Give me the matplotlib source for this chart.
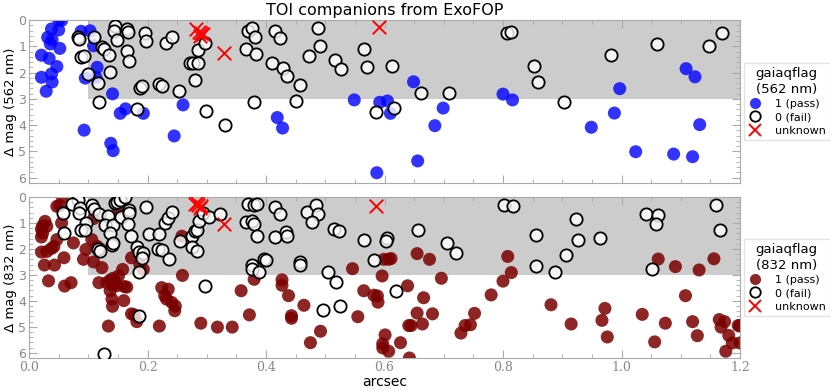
import numpy as np
import matplotlib
matplotlib.use("Agg")
import matplotlib.pyplot as plt
from matplotlib.lines import Line2D
from matplotlib.ticker import MultipleLocator

plt.rcParams.update({"font.family": "DejaVu Sans", "font.size": 10})

# ---- top panel (562 nm) ----
top_pass_x = [0.050, 0.055, 0.038, 0.050, 0.0315, 0.039, 0.036, 0.052, 0.021, 0.034, 0.047, 0.021, 0.038, 0.039, 0.029,
              0.088, 0.103, 0.109, 0.115, 0.095, 0.113, 0.141, 0.154, 0.163, 0.193, 0.093, 0.138, 0.142, 0.260, 0.245,
              0.419, 0.428, 0.549, 0.592, 0.605, 0.610, 0.587, 0.649, 0.699, 0.685, 0.656, 0.800, 0.816, 0.949, 0.988,
              0.997, 1.024, 1.088, 1.120, 1.109, 1.124, 1.132]
top_pass_y = [0.00, 0.02, 0.34, 0.38, 0.66, 0.76, 0.91, 1.08, 1.34, 1.46, 1.77, 2.18, 2.05, 2.36, 2.71,
              0.43, 0.41, 0.98, 1.80, 2.21, 2.18, 2.81, 3.55, 3.38, 3.55, 4.19, 4.69, 4.97, 3.23, 4.41,
              3.71, 4.11, 3.04, 3.13, 3.08, 3.55, 5.81, 2.35, 3.35, 4.02, 5.36, 2.82, 3.04, 4.08, 3.54,
              2.61, 5.01, 5.10, 5.20, 1.85, 2.16, 3.98]

top_fail_x = [0.145, 0.144, 0.166, 0.167, 0.148, 0.196, 0.198, 0.083, 0.084, 0.109, 0.123, 0.126, 0.135, 0.166, 0.169,
              0.088, 0.093, 0.137, 0.099, 0.116, 0.118, 0.183, 0.187, 0.191, 0.220, 0.225, 0.253, 0.232, 0.241, 0.272,
              0.277, 0.285, 0.280, 0.286, 0.298, 0.331, 0.297, 0.369, 0.377, 0.381, 0.367, 0.383, 0.379, 0.410,
              0.415, 0.424, 0.488, 0.491, 0.473, 0.428, 0.436, 0.457, 0.451, 0.516, 0.527, 0.565, 0.570, 0.613,
              0.585, 0.616, 0.662, 0.709, 0.807, 0.814, 0.852, 0.859, 0.903, 0.983, 1.060, 1.147, 1.169]
top_fail_y = [0.22, 0.43, 0.34, 0.47, 0.76, 0.48, 0.79, 0.63, 0.72, 0.63, 1.04, 1.12, 1.32, 1.17, 1.57,
              1.42, 1.37, 1.99, 2.05, 2.41, 3.12, 3.37, 2.59, 2.51, 2.43, 2.51, 2.69, 0.86, 0.63, 1.62,
              1.65, 1.65, 2.29, 1.14, 3.45, 4.00, 0.89, 0.41, 0.30, 0.66, 1.12, 1.29, 3.13, 1.62,
              0.43, 0.70, 0.32, 0.99, 1.37, 1.84, 2.14, 2.48, 3.10, 1.52, 1.85, 1.09, 1.79, 1.74,
              3.49, 3.36, 2.79, 2.79, 0.51, 0.46, 1.76, 2.36, 3.13, 1.34, 0.92, 1.00, 0.49]

top_unk_x = [0.282, 0.287, 0.291, 0.289, 0.294, 0.329, 0.590]
top_unk_y = [0.33, 0.45, 0.50, 0.62, 0.55, 1.27, 0.25]

# ---- bottom panel (832 nm) ----
bot_pass_x = [0.056, 0.047, 0.052, 0.027, 0.023, 0.030, 0.021, 0.023, 0.021, 0.055, 0.047, 0.042, 0.038, 0.021, 0.030,
              0.075, 0.059, 0.026, 0.043, 0.096, 0.092, 0.033, 0.060, 0.071, 0.106, 0.109, 0.109, 0.123, 0.115, 0.120,
              0.118, 0.131, 0.137, 0.142, 0.145, 0.141, 0.148, 0.158, 0.151, 0.161, 0.165, 0.137, 0.140, 0.141, 0.160,
              0.173, 0.178, 0.182, 0.134, 0.173, 0.187, 0.193, 0.151, 0.220, 0.224, 0.235, 0.229, 0.232, 0.241, 0.247,
              0.246, 0.258, 0.259, 0.290, 0.318, 0.343, 0.358, 0.372, 0.380,
              0.427, 0.427, 0.438, 0.443, 0.443, 0.464, 0.475, 0.492, 0.546, 0.555, 0.565, 0.582, 0.588, 0.589, 0.596,
              0.599, 0.607, 0.611, 0.601, 0.597, 0.597, 0.607, 0.627, 0.641, 0.645, 0.642, 0.639, 0.655, 0.676, 0.655,
              0.664, 0.666, 0.681, 0.696, 0.729, 0.736, 0.745, 0.752, 0.780, 0.800, 0.808,
              0.814, 0.881, 0.915, 0.972, 0.967, 0.976, 1.035, 1.056, 1.062, 1.091, 1.074, 1.108, 1.120, 1.128, 1.131,
              1.156, 1.165, 1.168, 1.174, 1.181, 1.187, 1.176, 1.197, 1.200, 1.200]
bot_pass_y = [0.00, 0.36, 0.33, 0.94, 1.11, 1.13, 1.24, 1.39, 1.54, 1.00, 1.64, 1.91, 1.98, 2.12, 2.10,
              1.77, 2.34, 2.62, 2.62, 2.02, 2.40, 3.23, 3.43, 3.30, 1.64, 0.83, 2.50, 2.72, 1.90, 2.00,
              3.30, 3.30, 3.20, 3.13, 3.25, 3.40, 3.42, 2.79, 3.04, 3.45, 3.47, 3.61, 3.93, 4.21, 3.99,
              4.50, 4.54, 4.80, 4.97, 2.34, 2.60, 2.79, 0.45, 4.97, 3.49, 3.55, 3.80, 3.93, 4.06, 4.20,
              4.38, 1.51, 3.02, 4.86, 5.01, 5.01, 3.61, 4.54, 3.17,
              3.19, 3.40, 3.80, 4.57, 4.67, 4.17, 5.61, 5.17, 2.76, 4.61, 3.61, 3.78, 3.81, 4.05, 3.04,
              2.40, 2.40, 2.37, 5.31, 5.65, 5.81, 5.94, 5.61, 4.95, 4.95, 6.20, 3.42, 2.18, 2.40, 4.47,
              4.89, 3.88, 4.50, 3.13, 5.24, 4.95, 4.92, 4.48, 3.77, 3.24, 2.29,
              2.91, 4.15, 4.89, 4.29, 4.75, 5.39, 4.52, 5.58, 2.39, 2.68, 4.86, 3.80, 4.80, 5.34, 2.81,
              2.38, 4.72, 5.01, 4.80, 5.33, 5.62, 5.94, 4.95, 4.95, 5.62]

bot_fail_x = [0.082, 0.072, 0.086, 0.084, 0.058, 0.059, 0.106, 0.110, 0.118, 0.134, 0.128, 0.141, 0.137, 0.097, 0.088,
              0.095, 0.116, 0.120, 0.140, 0.142, 0.145, 0.148, 0.154, 0.162, 0.156, 0.169, 0.169, 0.167, 0.172, 0.183,
              0.186, 0.193, 0.191, 0.185, 0.186, 0.127, 0.197, 0.203, 0.220, 0.218, 0.224, 0.237, 0.230, 0.234, 0.241,
              0.255, 0.275, 0.280, 0.283, 0.275, 0.283, 0.287, 0.297, 0.294, 0.304, 0.323, 0.370, 0.379, 0.384, 0.367,
              0.376, 0.379, 0.384, 0.376, 0.377, 0.389, 0.397, 0.400,
              0.415, 0.424, 0.469, 0.484, 0.488, 0.478, 0.415, 0.434, 0.436, 0.458, 0.458, 0.505, 0.518, 0.515, 0.524,
              0.565, 0.583, 0.604, 0.602, 0.620, 0.497, 0.525, 0.657, 0.706, 0.721, 0.801,
              0.817, 0.924, 0.856, 0.926, 0.963, 0.907, 0.856, 0.887, 1.042, 1.062, 1.059, 1.052, 1.159, 1.167]
bot_fail_y = [0.11, 0.27, 0.43, 0.60, 0.60, 1.39, 0.31, 0.47, 0.65, 0.75, 1.07, 1.07, 1.39, 1.01, 1.26,
              1.28, 2.02, 2.09, 1.83, 1.77, 0.24, 0.18, 0.11, 0.01, 0.78, 0.50, 0.62, 1.03, 1.49, 1.92,
              2.12, 2.15, 2.34, 2.89, 4.57, 6.04, 0.39, 1.41, 1.41, 2.02, 2.05, 2.40, 1.00, 0.81, 0.56,
              1.70, 1.49, 1.32, 1.26, 1.92, 2.09, 0.94, 3.42, 0.60, 0.78, 0.65, 0.27, 0.31, 0.27, 0.97,
              0.94, 1.03, 1.51, 2.60, 2.79, 2.89, 2.40, 2.44,
              0.39, 0.65, 0.56, 0.31, 0.64, 0.95, 1.55, 1.36, 1.52, 2.51, 2.61, 2.89, 3.27, 1.22, 1.31,
              1.67, 2.43, 1.58, 1.70, 3.61, 4.34, 4.21, 1.27, 1.77, 2.16, 0.32,
              0.33, 0.85, 1.48, 1.65, 1.59, 2.25, 2.67, 2.90, 0.65, 0.69, 1.04, 2.79, 0.32, 1.29]

bot_unk_x = [0.280, 0.286, 0.291, 0.289, 0.283, 0.329, 0.586]
bot_unk_y = [0.27, 0.31, 0.34, 0.43, 0.22, 1.03, 0.34]

BLUE = (0.0, 0.0, 1.0, 0.8)
DRED = (0.48, 0.0, 0.0, 0.85)
WHITE = (1, 1, 1, 0.8)

fig = plt.figure(figsize=(8.30, 3.91), dpi=100)
ax_top = fig.add_axes([29/830, 1-183/391, 711/830, 163/391])
ax_bot = fig.add_axes([29/830, 1-358/391, 711/830, 161/391])

panels = [
    (ax_top, top_pass_x, top_pass_y, top_fail_x, top_fail_y, top_unk_x, top_unk_y, BLUE, "562"),
    (ax_bot, bot_pass_x, bot_pass_y, bot_fail_x, bot_fail_y, bot_unk_x, bot_unk_y, DRED, "832"),
]

for ax, px, py, fx, fy, ux, uy, col, wl in panels:
    # gray "good" region
    ax.add_patch(plt.Rectangle((0.1, 0), 1.1, 3, facecolor="#cccccc", edgecolor="none", zorder=0))
    ax.scatter(px, py, s=88, color=col, edgecolor="none", zorder=2)
    ax.scatter(fx, fy, s=78, facecolor=WHITE, edgecolor="black", linewidth=1.3, zorder=3)
    ax.scatter(ux, uy, s=95, marker="x", color="red", linewidth=1.4, zorder=4)

    ax.set_xlim(0, 1.2)
    ax.set_ylim(6.2, 0)
    ax.xaxis.set_major_locator(MultipleLocator(0.2))
    ax.xaxis.set_minor_locator(MultipleLocator(0.05))
    ax.yaxis.set_major_locator(MultipleLocator(1))
    ax.yaxis.set_minor_locator(MultipleLocator(0.2))
    ax.tick_params(which="both", direction="in", top=True, right=True, color="#aaaaaa",
                   labelcolor="#888888", labelsize=9, pad=2)
    ax.tick_params(which="major", length=6)
    ax.tick_params(which="minor", length=3)
    for sp in ax.spines.values():
        sp.set_color("#aaaaaa")
    ax.set_ylabel(f"Δ mag ({wl} nm)", fontsize=9.5, labelpad=1)

    handles = [
        Line2D([], [], ls="none", marker="o", markersize=8, markerfacecolor=col, markeredgecolor="none", label="1 (pass)"),
        Line2D([], [], ls="none", marker="o", markersize=7.5, markerfacecolor="white", markeredgecolor="black",
               markeredgewidth=1.3, label="0 (fail)"),
        Line2D([], [], ls="none", marker="x", markersize=9, color="red", markeredgewidth=1.4, label="unknown"),
    ]
    leg = ax.legend(handles=handles, title=f"gaiaqflag\n({wl} nm)", loc="center left",
                    bbox_to_anchor=(1.005, 0.5), fontsize=8, title_fontsize=9.5, fancybox=False,
                    edgecolor="#dddddd", handlelength=1.2, handletextpad=1.2, borderpad=0.4,
                    labelspacing=0.3, borderaxespad=0)
    leg.get_title().set_multialignment("center")

ax_top.tick_params(labelbottom=False)
for lab in ax_bot.get_xticklabels():
    lab.set_family("DejaVu Serif")
ax_bot.set_xlabel("arcsec", fontsize=10, labelpad=1)

fig.text(385/830, 1-10/391, "TOI companions from ExoFOP", ha="center", va="center", fontsize=11.5)

fig.savefig("out.png", dpi=100)
